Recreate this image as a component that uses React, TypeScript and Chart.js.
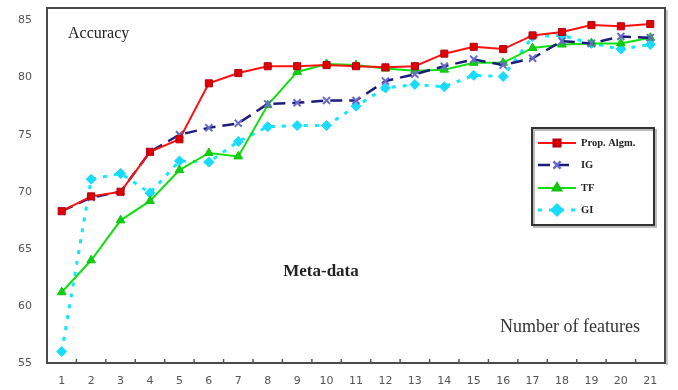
import React, { useEffect, useRef } from "react";
import { Chart, registerables } from "chart.js";
import { drawPoint } from "chart.js/helpers";

Chart.register(...registerables);

const categories = ["1","2","3","4","5","6","7","8","9","10","11","12","13","14","15","16","17","18","19","20","21"];
const yTicks = [55, 60, 65, 70, 75, 80, 85];
const propAlgm = [68.3,69.6,70.0,73.5,74.6,79.5,80.4,81.0,81.0,81.1,81.0,80.9,81.0,82.1,82.7,82.5,83.7,84.0,84.6,84.5,84.7];
const ig = [68.3,69.5,70.0,73.5,75.0,75.6,76.0,77.7,77.8,78.0,78.0,79.7,80.3,81.0,81.6,81.1,81.7,83.2,83.0,83.6,83.5];
const tf = [61.2,64.0,67.5,69.2,71.9,73.4,73.1,77.6,80.5,81.2,81.1,80.8,80.6,80.7,81.3,81.3,82.6,82.9,83.0,83.0,83.5];
const gi = [56.0,71.1,71.6,69.9,72.7,72.6,74.4,75.7,75.8,75.8,77.5,79.1,79.4,79.2,80.2,80.1,83.6,83.7,83.0,82.5,82.9];
const seriesNames = ["Prop. Algm.", "IG", "TF", "GI"];

const framePlugin = {
  id: "frameAndText",
  beforeDatasetsDraw(chart: any) {
    const { ctx, chartArea: a, scales } = chart;
    const x = scales.x;
    ctx.save();
    ctx.strokeStyle = "#c8c8c8";
    ctx.lineWidth = 2;
    ctx.beginPath();
    ctx.moveTo(a.right + 2, a.top + 2);
    ctx.lineTo(a.right + 2, a.bottom + 2);
    ctx.stroke();
    ctx.strokeStyle = "#4a4a4a";
    ctx.lineWidth = 2;
    ctx.strokeRect(a.left, a.top, a.right - a.left, a.bottom - a.top);
    ctx.strokeStyle = "#555";
    ctx.lineWidth = 1.5;
    for (let i = 0; i < categories.length - 1; i++) {
      const px = x.getPixelForValue(i + 0.5);
      ctx.beginPath();
      ctx.moveTo(px, a.bottom);
      ctx.lineTo(px, a.bottom - 4);
      ctx.stroke();
    }
    ctx.fillStyle = "#222";
    ctx.textBaseline = "middle";
    ctx.textAlign = "left";
    ctx.font = "16px 'Liberation Serif'";
    ctx.fillText("Accuracy", 68, 34);
    ctx.font = "bold 17px 'Liberation Serif'";
    ctx.textAlign = "center";
    ctx.fillText("Meta-data", 321, 272);
    ctx.font = "18px 'Liberation Serif'";
    ctx.fillStyle = "#333";
    ctx.textAlign = "right";
    ctx.fillText("Number of features", 640, 327);
    ctx.restore();
  },
  afterDraw(chart: any) {
    const { ctx, chartArea: a } = chart;
    ctx.save();
    const bx = a.right - 133, by = 128, bw = 122, bh = 97;
    ctx.fillStyle = "#fff";
    ctx.fillRect(bx, by, bw, bh);
    ctx.strokeStyle = "#bbb";
    ctx.lineWidth = 2;
    ctx.strokeRect(bx + 2, by + 2, bw, bh);
    ctx.strokeStyle = "#333";
    ctx.lineWidth = 2;
    ctx.strokeRect(bx, by, bw, bh);
    const rows = [143, 165, 188, 210];
    chart.data.datasets.forEach((ds: any, i: number) => {
      const y = rows[i];
      ctx.strokeStyle = ds.borderColor;
      ctx.lineWidth = ds.borderWidth;
      ctx.setLineDash(ds.borderDash || []);
      ctx.beginPath();
      ctx.moveTo(bx + 6, y);
      ctx.lineTo(bx + 44, y);
      ctx.stroke();
      ctx.setLineDash([]);
      ctx.fillStyle = ds.pointBackgroundColor;
      ctx.strokeStyle = ds.pointBorderColor;
      drawPoint(ctx, { pointStyle: ds.pointStyle, radius: ds.pointRadius, borderWidth: ds.pointBorderWidth, rotation: 0 }, bx + 25, y);
      ctx.fillStyle = "#222";
      ctx.font = "bold 10.5px 'Liberation Serif'";
      ctx.textAlign = "left";
      ctx.textBaseline = "middle";
      ctx.fillText(ds.label, bx + 49, y);
    });
    ctx.restore();
  },
};

export default function App() {
  const ref = useRef<HTMLCanvasElement>(null);
  useEffect(() => {
    if (!ref.current) return;
    const chart = new Chart(ref.current, {
      type: "line",
      data: {
        labels: categories,
        datasets: [
          {
            label: seriesNames[0], data: propAlgm, borderColor: "#ff1010", borderWidth: 2,
            pointStyle: "rect", pointRadius: 5, pointBackgroundColor: "#e00000", pointBorderColor: "#b00010", pointBorderWidth: 1,
            tension: 0, order: 1,
          },
          {
            label: seriesNames[1], data: ig, borderColor: "#1c1c7c", borderWidth: 2.5, borderDash: [12, 7],
            pointStyle: "crossRot", pointRadius: 5, pointBackgroundColor: "#6a6acc", pointBorderColor: "#6a6acc", pointBorderWidth: 2,
            tension: 0, order: 2,
          },
          {
            label: seriesNames[2], data: tf, borderColor: "#10e010", borderWidth: 2,
            pointStyle: "triangle", pointRadius: 5, pointBackgroundColor: "#10d010", pointBorderColor: "#10c010", pointBorderWidth: 1,
            tension: 0, order: 3,
          },
          {
            label: seriesNames[3], data: gi, borderColor: "#10e8ff", borderWidth: 3, borderDash: [4, 7],
            pointStyle: "rectRot", pointRadius: 5, pointBackgroundColor: "#18dcff", pointBorderColor: "#18dcff", pointBorderWidth: 1,
            tension: 0, order: 4,
          },
        ],
      },
      options: {
        animation: false,
        responsive: true,
        maintainAspectRatio: false,
        layout: { padding: { left: 0, top: 8, right: 13, bottom: 0 } },
        plugins: { legend: { display: false }, tooltip: { enabled: false } },
        scales: {
          x: {
            type: "category",
            offset: true,
            grid: { display: false, drawTicks: false },
            border: { display: false },
            ticks: { color: "#555", font: { family: "'DejaVu Sans'", size: 11 }, padding: 12, maxRotation: 0, autoSkip: false },
            afterFit: (s: any) => { s.height = 27; s.paddingLeft = 0; s.paddingRight = 0; },
          },
          y: {
            min: 55,
            max: 86.1,
            grid: { display: false, drawTicks: false },
            border: { display: false },
            ticks: { color: "#555", font: { family: "'DejaVu Sans'", size: 11 }, padding: 15 },
            afterBuildTicks: (s: any) => { s.ticks = yTicks.map((v) => ({ value: v })); },
            afterFit: (s: any) => { s.width = 47; s.paddingTop = 0; s.paddingBottom = 0; },
          },
        },
      },
      plugins: [framePlugin],
    });
    return () => chart.destroy();
  }, []);
  return (
    <div style={{ position: "fixed", left: 0, top: 0, width: 678, height: 390, background: "#fff" }}>
      <canvas ref={ref} />
    </div>
  );
}
